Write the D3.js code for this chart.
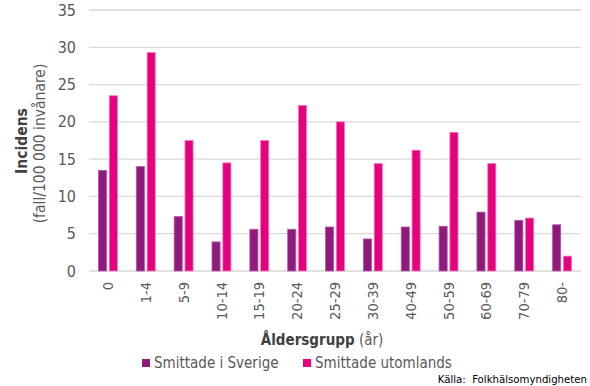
<!DOCTYPE html>
<html>
<head>
<meta charset="utf-8">
<script src="https://cdn.jsdelivr.net/npm/d3@7"></script>
<style>
  body { margin: 0; background: #fff; }
  text { font-family: "DejaVu Sans Condensed", "DejaVu Sans", sans-serif; font-stretch: condensed; }
</style>
</head>
<body>
<div id="chart"></div>
<script>
const categories = ["0", "1-4", "5-9", "10-14", "15-19", "20-24", "25-29", "30-39", "40-49", "50-59", "60-69", "70-79", "80-"]
const sverige = [13.5, 14.0, 7.3, 3.9, 5.6, 5.6, 5.9, 4.3, 5.9, 6.0, 7.9, 6.8, 6.2]
const utomlands = [23.5, 29.3, 17.5, 14.5, 17.5, 22.2, 20.0, 14.4, 16.2, 18.6, 14.4, 7.1, 2.0]
const seriesNames = ["Smittade i Sverige", "Smittade utomlands"]
const colors = ["#8f1a7b", "#e6007e"]
const strokes = ["#b35aa6", "#f27bb8"]
const yTicks = [0, 5, 10, 15, 20, 25, 30, 35]

const W = 590, H = 386
const plotL = 89, plotR = 581, plotT = 10, plotB = 271

const svg = d3.select("#chart").append("svg")
  .attr("width", W)
  .attr("height", H)

const x0 = d3.scaleBand()
  .domain(categories)
  .range([plotL, plotR])
  .paddingInner(0.5)
  .paddingOuter(0.25)

const x1 = d3.scaleBand()
  .domain([0, 1])
  .range([0, x0.bandwidth()])
  .paddingInner(0.25)

const y = d3.scaleLinear()
  .domain([0, 35])
  .range([plotB, plotT])

// gridlines
svg.append("g")
  .selectAll("line")
  .data(yTicks)
  .enter().append("line")
    .attr("x1", plotL)
    .attr("x2", plotR)
    .attr("y1", d => y(d))
    .attr("y2", d => y(d))
    .style("stroke", "#d9d9d9")
    .style("stroke-width", 1.3)

// y tick labels
svg.append("g")
  .selectAll("text")
  .data(yTicks)
  .enter().append("text")
    .attr("x", 76)
    .attr("y", d => y(d))
    .attr("dy", "0.35em")
    .attr("text-anchor", "end")
    .style("font-size", "16px")
    .style("fill", "#595959")
    .text(d => d)

// bars
const rows = categories.map((c, i) => ({ cat: c, vals: [sverige[i], utomlands[i]] }))

const groups = svg.append("g")
  .selectAll("g")
  .data(rows)
  .enter().append("g")
    .attr("transform", d => `translate(${x0(d.cat)},0)`)

groups.selectAll("rect")
  .data(d => d.vals.map((v, k) => ({ k: k, v: v })))
  .enter().append("rect")
    .attr("x", d => x1(d.k))
    .attr("width", x1.bandwidth())
    .attr("y", d => y(d.v))
    .attr("height", d => y(0) - y(d.v))
    .style("fill", d => colors[d.k])
    .style("stroke", d => strokes[d.k])
    .style("stroke-width", 0.8)

// x labels
svg.append("g")
  .selectAll("text")
  .data(categories)
  .enter().append("text")
    .attr("transform", d => `translate(${x0(d) + x0.bandwidth() / 2},282) rotate(-90)`)
    .attr("dy", "0.35em")
    .attr("text-anchor", "end")
    .style("font-size", "14.5px")
    .style("fill", "#595959")
    .text(d => d)

// y axis title
const yTitle = svg.append("text")
  .attr("transform", "rotate(-90)")
  .attr("text-anchor", "middle")
  .style("fill", "#404040")
yTitle.append("tspan")
  .attr("x", -141)
  .attr("y", 27)
  .style("font-size", "15.5px")
  .style("font-weight", "bold")
  .text("Incidens")
yTitle.append("tspan")
  .attr("x", -143.5)
  .attr("y", 45)
  .style("font-size", "15.5px")
  .style("fill", "#595959")
  .text("(fall/100 000 invånare)")

// x axis title
const xTitle = svg.append("text")
  .attr("x", 322)
  .attr("y", 345)
  .attr("text-anchor", "middle")
  .style("font-size", "15px")
  .style("fill", "#404040")
xTitle.append("tspan").style("font-weight", "bold").text("Åldersgrupp")
xTitle.append("tspan").style("fill", "#595959").text(" (år)")

// legend
const legendX = [142, 303]
const legend = svg.append("g")
  .selectAll("g")
  .data(seriesNames)
  .enter().append("g")
    .attr("transform", (d, i) => `translate(${legendX[i]},363)`)
legend.append("rect")
  .attr("x", 0)
  .attr("y", -4)
  .attr("width", 8)
  .attr("height", 8)
  .style("fill", (d, i) => colors[i])
legend.append("text")
  .attr("x", 12)
  .attr("dy", "0.35em")
  .style("font-size", "15px")
  .style("fill", "#595959")
  .text(d => d)

// source
svg.append("text")
  .attr("x", 587)
  .attr("y", 383)
  .attr("text-anchor", "end")
  .style("font-size", "11.3px")
  .style("fill", "#000")
  .style("white-space", "pre")
  .text("Källa:  Folkhälsomyndigheten")
</script>
</body>
</html>
